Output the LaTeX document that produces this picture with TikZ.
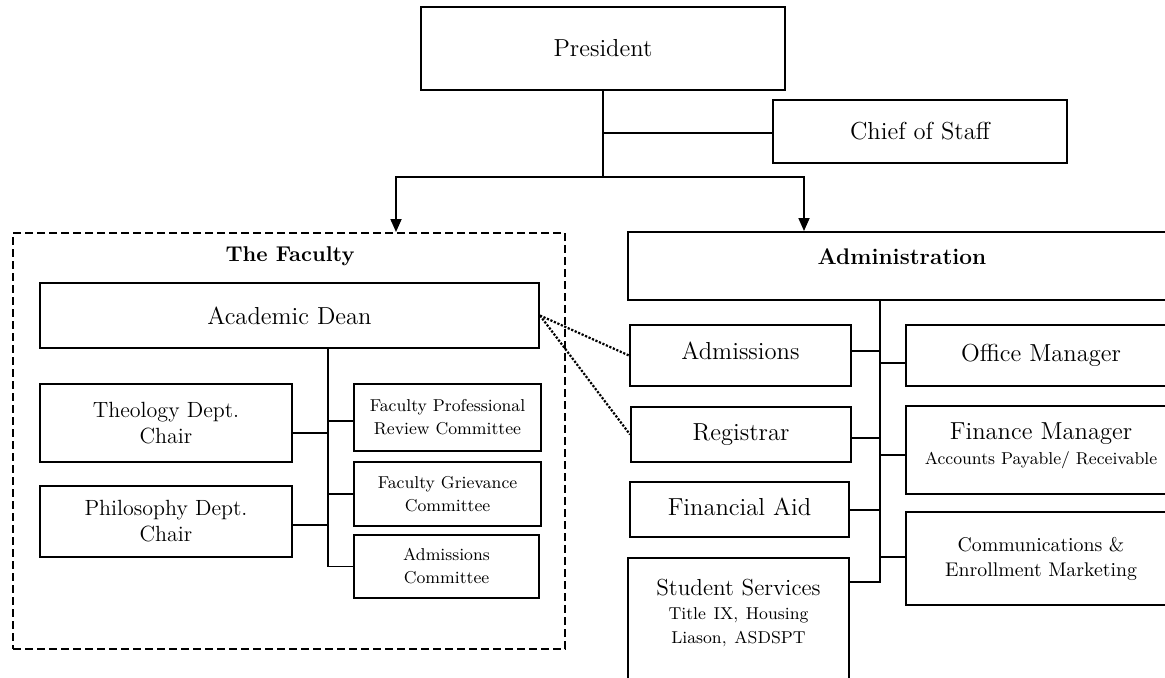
\documentclass[tikz,border=0pt]{standalone}
\usetikzlibrary{arrows.meta}

\newcommand{\subtxt}[1]{{\fontsize{8.6}{11.5}\selectfont #1}}

\begin{document}
\begin{tikzpicture}[x=0.5pt, y=-0.5pt]
        \tikzstyle{box}=[draw, line width=1pt, rectangle, inner sep=1pt, align=center, font=\fontsize{12.3}{14.5}\selectfont]
        \tikzstyle{midbox}=[box, font=\fontsize{11}{13}\selectfont]
        \tikzstyle{smallbox}=[box, font=\fontsize{8.6}{11.5}\selectfont]
        \tikzstyle{link}=[line width=0.9pt]
        \tikzstyle{down}=[line width=0.9pt, -{Triangle[width=5.5pt, length=6.5pt]}]
        \tikzstyle{side}=[line width=1.1pt, dash pattern=on 1.1pt off 0.8pt]

        \useasboundingbox (0,0) rectangle (1165,677);
        \clip (0,0) rectangle (1165,677);

        \node (pres)[box, minimum width=182pt, minimum height=41.5pt] at (603,48.5) {President};
        \node (chief)[box, minimum width=147pt, minimum height=31.5pt] at (920,131.5) {Chief of Staff};

        \node (fac)[draw, line width=1pt, dash pattern=on 4pt off 2pt, minimum width=276pt, minimum height=208pt] at (289,441) {};
        \node (factitle)[font=\fontsize{10.7}{12}\selectfont\bfseries] at (290,256) {The Faculty};
        \node (dean)[box, minimum width=249.5pt, minimum height=32.5pt] at (289.5,315.5) {Academic Dean};
        \node (theo)[midbox, minimum width=126pt, minimum height=39pt] at (166,423) {Theology Dept.\\Chair};
        \node (phil)[midbox, minimum width=126pt, minimum height=35.5pt] at (166,521.5) {Philosophy Dept.\\Chair};
        \node (fprc)[smallbox, minimum width=93.5pt, minimum height=33.5pt] at (447.5,417.5) {Faculty Professional\\Review Committee};
        \node (fgc)[smallbox, minimum width=93.5pt, minimum height=32pt] at (447.5,494) {Faculty Grievance\\Committee};
        \node (admc)[smallbox, minimum width=92.5pt, minimum height=31.5pt] at (446.5,566.5) {Admissions\\Committee};

        \node (admin)[box, font=\fontsize{11.3}{13}\selectfont\bfseries, text height=8pt, text depth=9.5pt, minimum width=274pt, minimum height=34pt] at (902,266) {Administration};
        \node (adm)[box, text depth=5pt, minimum width=110.5pt, minimum height=30.5pt] at (740.5,355.5) {Admissions};
        \node (reg)[box, minimum width=110pt, minimum height=27.5pt] at (741,434.5) {Registrar};
        \node (fina)[box, text depth=2.5pt, minimum width=109.5pt, minimum height=27.5pt] at (739.5,509.5) {Financial Aid};
        \node (stud)[box, font=\fontsize{11.6}{12.2}\selectfont, text width=105pt, text height=8pt, text depth=46pt, minimum width=110.5pt, minimum height=75pt] at (738.5,633) {Student Services\\\subtxt{Title IX, Housing}\\\subtxt{Liason, ASDSPT}};
        \node (office)[box, minimum width=135pt, minimum height=30.5pt] at (1041,355.5) {Office Manager};
        \node (finm)[box, minimum width=135pt, minimum height=44pt] at (1041,450) {Finance Manager\\[-2pt]\subtxt{Accounts Payable/ Receivable}\rule[-6pt]{0pt}{6pt}};
        \node (comm)[box, font=\fontsize{9.9}{12.5}\selectfont, minimum width=135pt, minimum height=46.5pt] at (1041,558.5) {Communications \&\\Enrollment Marketing};

        \coordinate (fork) at (603,177);
        \coordinate (ftx) at (328,0);
        \coordinate (atx) at (880,0);

        \draw[link] (pres) -- (fork);
        \draw[link] ([yshift=-0.75pt]fork |- chief.west) -- ([yshift=-0.75pt]chief.west);
        \draw[down] (fork) -| ([xshift=53.5pt]fac.north);
        \draw[down] (fork) -| ([xshift=-49pt]admin.north);

        \draw[link] (dean.south -| ftx) |- (admc.west);
        \draw[link] ([yshift=-5pt]theo.east) -- ([yshift=-5pt]theo.east -| ftx);
        \draw[link] ([yshift=-1.75pt]phil.east) -- ([yshift=-1.75pt]phil.east -| ftx);
        \draw[link] ([yshift=-1.75pt]fprc.west) -- ([yshift=-1.75pt]fprc.west -| ftx);
        \draw[link] (fgc.west) -- (fgc.west -| ftx);

        \draw[link] (admin.south -| atx) |- ([yshift=-12.5pt]stud.north east);
        \draw[link] ([yshift=2.25pt]adm.east) -- ([yshift=2.25pt]adm.east -| atx);
        \draw[link] ([yshift=-1.75pt]reg.east) -- ([yshift=-1.75pt]reg.east -| atx);
        \draw[link] ([yshift=-0.25pt]fina.east) -- ([yshift=-0.25pt]fina.east -| atx);
        \draw[link] ([yshift=-3.75pt]office.west) -- ([yshift=-3.75pt]office.west -| atx);
        \draw[link] ([yshift=-2.5pt]finm.west) -- ([yshift=-2.5pt]finm.west -| atx);
        \draw[link] ([yshift=0.75pt]comm.west) -- ([yshift=0.75pt]comm.west -| atx);

        \draw[side] (dean.east) -- (adm.west);
        \draw[side] (dean.east) -- (reg.west);
    \end{tikzpicture}
\end{document}
